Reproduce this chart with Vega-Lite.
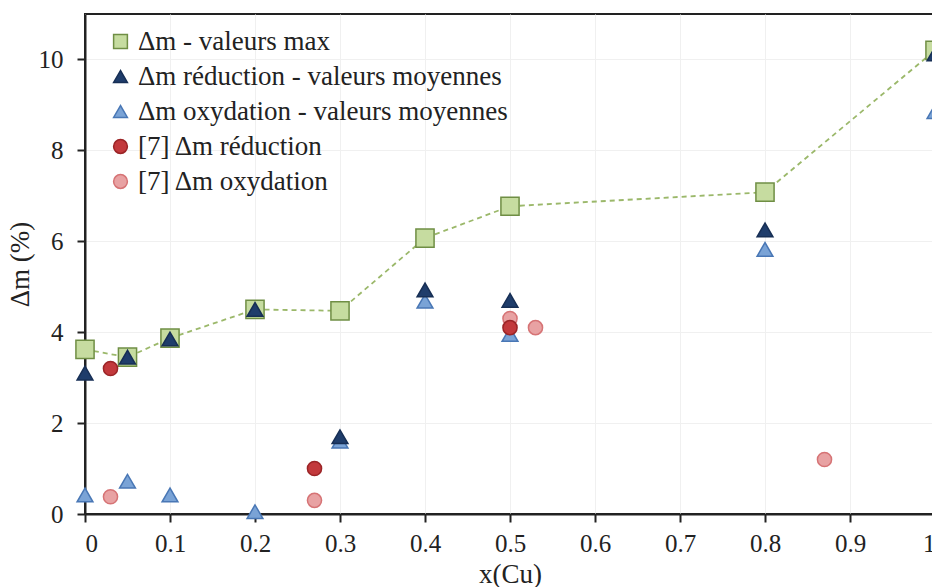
{
  "$schema": "https://vega.github.io/schema/vega-lite/v6.json",
  "width": 850,
  "height": 500,
  "autosize": {"type": "none"},
  "padding": {"left": 85, "top": 14, "right": 0, "bottom": 73},
  "background": "white",
  "config": {
    "font": "Liberation Serif",
    "view": {"stroke": "#222", "strokeWidth": 2},
    "axis": {
      "labelFont": "Liberation Serif",
      "titleFont": "Liberation Serif",
      "labelFontSize": 25,
      "titleFontSize": 27,
      "labelColor": "#222",
      "titleColor": "#222",
      "titleFontWeight": "normal",
      "domainColor": "#222",
      "domainWidth": 2,
      "tickColor": "#222",
      "tickWidth": 2,
      "tickSize": 8,
      "gridColor": "#f0f0f0",
      "gridWidth": 1
    },
    "legend": {
      "labelFont": "Liberation Serif",
      "labelFontSize": 27,
      "labelColor": "#222",
      "symbolSize": 190,
      "symbolStrokeWidth": 1.5,
      "rowPadding": 7,
      "labelOffset": 4,
      "labelLimit": 600
    }
  },
  "data": {
    "values": [
      {"x": 0.0, "y": 3.62, "s": "Δm - valeurs max"},
      {"x": 0.05, "y": 3.45, "s": "Δm - valeurs max"},
      {"x": 0.1, "y": 3.87, "s": "Δm - valeurs max"},
      {"x": 0.2, "y": 4.5, "s": "Δm - valeurs max"},
      {"x": 0.3, "y": 4.47, "s": "Δm - valeurs max"},
      {"x": 0.4, "y": 6.07, "s": "Δm - valeurs max"},
      {"x": 0.5, "y": 6.77, "s": "Δm - valeurs max"},
      {"x": 0.8, "y": 7.08, "s": "Δm - valeurs max"},
      {"x": 1.0, "y": 10.2, "s": "Δm - valeurs max"},
      {"x": 0.0, "y": 0.42, "s": "Δm oxydation - valeurs moyennes"},
      {"x": 0.05, "y": 0.72, "s": "Δm oxydation - valeurs moyennes"},
      {"x": 0.1, "y": 0.42, "s": "Δm oxydation - valeurs moyennes"},
      {"x": 0.2, "y": 0.05, "s": "Δm oxydation - valeurs moyennes"},
      {"x": 0.3, "y": 1.6, "s": "Δm oxydation - valeurs moyennes"},
      {"x": 0.4, "y": 4.68, "s": "Δm oxydation - valeurs moyennes"},
      {"x": 0.5, "y": 3.95, "s": "Δm oxydation - valeurs moyennes"},
      {"x": 0.8, "y": 5.82, "s": "Δm oxydation - valeurs moyennes"},
      {"x": 1.0, "y": 8.85, "s": "Δm oxydation - valeurs moyennes"},
      {"x": 0.0, "y": 3.1, "s": "Δm réduction - valeurs moyennes"},
      {"x": 0.05, "y": 3.45, "s": "Δm réduction - valeurs moyennes"},
      {"x": 0.1, "y": 3.85, "s": "Δm réduction - valeurs moyennes"},
      {"x": 0.2, "y": 4.5, "s": "Δm réduction - valeurs moyennes"},
      {"x": 0.3, "y": 1.7, "s": "Δm réduction - valeurs moyennes"},
      {"x": 0.4, "y": 4.93, "s": "Δm réduction - valeurs moyennes"},
      {"x": 0.5, "y": 4.7, "s": "Δm réduction - valeurs moyennes"},
      {"x": 0.8, "y": 6.25, "s": "Δm réduction - valeurs moyennes"},
      {"x": 1.0, "y": 10.12, "s": "Δm réduction - valeurs moyennes"},
      {"x": 0.03, "y": 0.38, "s": "[7] Δm oxydation"},
      {"x": 0.27, "y": 0.3, "s": "[7] Δm oxydation"},
      {"x": 0.5, "y": 4.3, "s": "[7] Δm oxydation"},
      {"x": 0.53, "y": 4.1, "s": "[7] Δm oxydation"},
      {"x": 0.87, "y": 1.2, "s": "[7] Δm oxydation"},
      {"x": 0.03, "y": 3.2, "s": "[7] Δm réduction"},
      {"x": 0.27, "y": 1.0, "s": "[7] Δm réduction"},
      {"x": 0.5, "y": 4.1, "s": "[7] Δm réduction"}
    ]
  },
  "encoding": {
    "x": {
      "field": "x",
      "type": "quantitative",
      "scale": {"domain": [0, 1], "nice": false, "zero": false},
      "axis": {
        "values": [0, 0.1, 0.2, 0.3, 0.4, 0.5, 0.6, 0.7, 0.8, 0.9, 1],
        "format": "~r",
        "title": "x(Cu)",
        "labelFont": "Liberation Serif",
        "titleFont": "Liberation Serif",
        "labelPadding": 9,
        "titlePadding": 5
      }
    },
    "y": {
      "field": "y",
      "type": "quantitative",
      "scale": {"domain": [0, 11], "nice": false},
      "axis": {
        "values": [0, 2, 4, 6, 8, 10],
        "format": "~r",
        "title": "Δm (%)",
        "labelFont": "Liberation Serif",
        "titleFont": "Liberation Serif",
        "labelPadding": 14,
        "titlePadding": 4
      }
    },
    "fill": {
      "field": "s",
      "type": "nominal",
      "scale": {
        "domain": ["Δm - valeurs max", "Δm réduction - valeurs moyennes", "Δm oxydation - valeurs moyennes", "[7] Δm réduction", "[7] Δm oxydation"],
        "range": ["#c6dca0", "#1f3d6b", "#7aa3d6", "#c2393c", "#e8a2a3"]
      },
      "legend": {"title": null, "orient": "none", "legendX": 22, "legendY": 14, "labelFont": "Liberation Serif", "labelFontSize": 27}
    },
    "shape": {
      "field": "s",
      "type": "nominal",
      "scale": {
        "domain": ["Δm - valeurs max", "Δm réduction - valeurs moyennes", "Δm oxydation - valeurs moyennes", "[7] Δm réduction", "[7] Δm oxydation"],
        "range": ["square", "triangle-up", "triangle-up", "circle", "circle"]
      },
      "legend": {"title": null, "orient": "none", "legendX": 22, "legendY": 14, "labelFont": "Liberation Serif", "labelFontSize": 27}
    },
    "stroke": {
      "field": "s",
      "type": "nominal",
      "scale": {
        "domain": ["Δm - valeurs max", "Δm réduction - valeurs moyennes", "Δm oxydation - valeurs moyennes", "[7] Δm réduction", "[7] Δm oxydation"],
        "range": ["#6f8e44", "#172f55", "#4977b5", "#9b2426", "#d67375"]
      },
      "legend": null
    }
  },
  "layer": [
    {
      "transform": [{"filter": "datum.s === 'Δm - valeurs max'"}],
      "mark": {"type": "line", "stroke": "#9bb86a", "strokeDash": [5, 4], "strokeWidth": 1.8},
      "encoding": {
        "order": {"field": "x", "type": "quantitative"},
        "fill": null,
        "shape": null,
        "stroke": null
      }
    },
    {
      "transform": [{"filter": "datum.s === 'Δm - valeurs max'"}],
      "mark": {"type": "point", "filled": true, "strokeWidth": 1.5, "opacity": 1, "size": 330}
    },
    {
      "transform": [{"filter": "indexof(datum.s, 'moyennes') >= 0"}],
      "mark": {"type": "point", "filled": true, "strokeWidth": 1.5, "opacity": 1, "size": 250}
    },
    {
      "transform": [{"filter": "indexof(datum.s, '[7]') >= 0"}],
      "mark": {"type": "point", "filled": true, "strokeWidth": 1.5, "opacity": 1, "size": 200}
    }
  ]
}
